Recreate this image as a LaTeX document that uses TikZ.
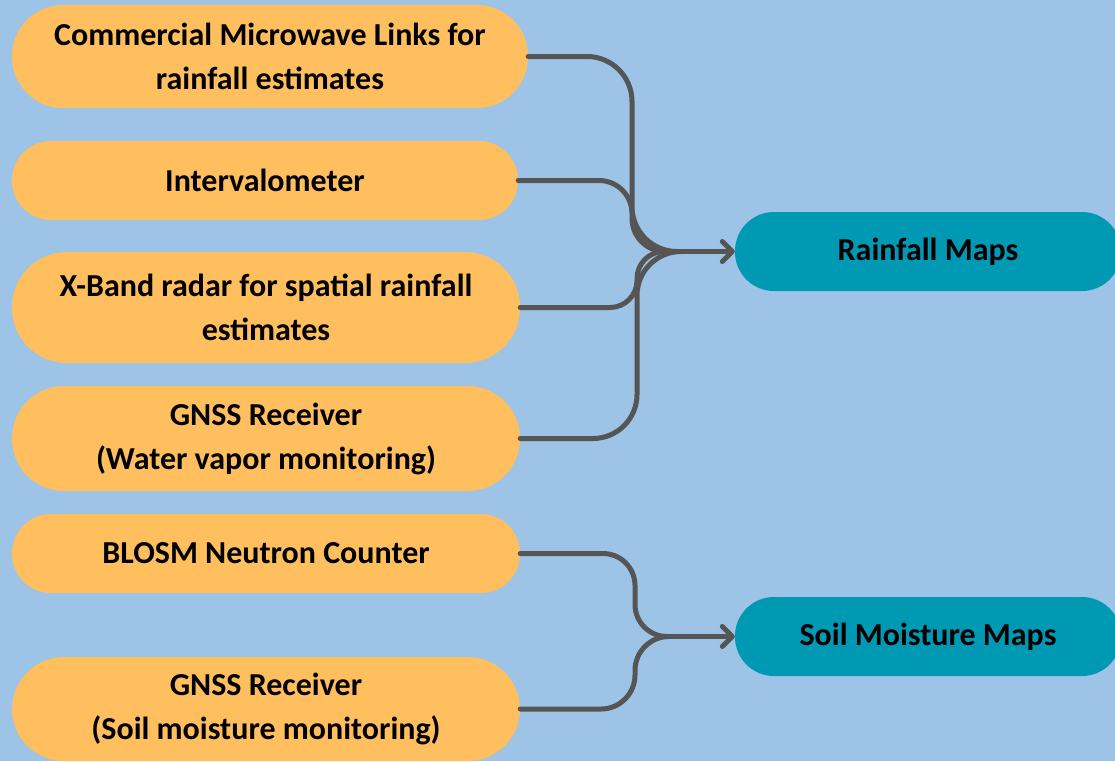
\documentclass[tikz,border=0pt]{standalone}
\usepackage{fontspec}
\setmainfont{Carlito}
\usetikzlibrary{arrows.meta}
\definecolor{bgblue}{HTML}{9DC3E6}
\definecolor{srcorange}{HTML}{FFBF5E}
\definecolor{tgtteal}{HTML}{0099B4}
\definecolor{linegray}{HTML}{555555}
\tikzset{
  box/.style={rectangle, inner sep=0pt, align=center, text=black,
    font=\fontsize{32}{44}\selectfont\bfseries},
  srcbox/.style={box, fill=srcorange},
  tgtbox/.style={box, fill=tgtteal, minimum width=386pt, minimum height=79pt, rounded corners=39pt},
  conn/.style={draw=linegray, line width=5pt, line cap=round, line join=round},
  arr/.style={conn, -{Straight Barb[length=10pt,width=20pt,line cap=round,line join=round]}}
}
\begin{document}
\begin{tikzpicture}[x=1pt,y=-1pt]
\fill[bgblue] (0,0) rectangle (1115,761);
\useasboundingbox (0,0) rectangle (1115,761);
\clip (0,0) rectangle (1115,761);

\node[srcbox, minimum width=516pt, minimum height=103pt, rounded corners=51pt] (c1) at (270,56.5) {Commercial Microwave Links for\\rainfall estimates};
\node[srcbox, minimum width=506pt, minimum height=79pt, rounded corners=39pt] (c2) at (265,180.5) {Intervalometer};
\node[srcbox, minimum width=508pt, minimum height=111pt, rounded corners=55pt] (c3) at (266,307.5) {X-Band radar for spatial rainfall\\estimates};
\node[srcbox, minimum width=508pt, minimum height=105pt, rounded corners=52pt] (c4) at (266,438.5) {GNSS Receiver\\(Water vapor monitoring)};
\node[srcbox, minimum width=508pt, minimum height=79pt, rounded corners=39pt] (c5) at (266,553.5) {BLOSM Neutron Counter};
\node[srcbox, minimum width=508pt, minimum height=104pt, rounded corners=52pt] (c6) at (266,709) {GNSS Receiver\\(Soil moisture monitoring)};

\node[tgtbox] (rain) at (928,251.5) {Rainfall Maps};
\node[tgtbox] (soil) at (928,636.5) {Soil Moisture Maps};

\coordinate (jr) at (672,251.5);
\coordinate (busA) at (632,251.5);
\coordinate (busB) at (637,251.5);
\coordinate (js) at (667,636.5);
\coordinate (busS) at (635,636.5);

\draw[conn, rounded corners=45pt] (c1.east) -- (c1.east -| busA) -- (busA) -- (jr);
\draw[conn, rounded corners=33pt] (c2.east) -- (c2.east -| busA) -- (busA) -- (jr);
\draw[conn, rounded corners=27pt] (c3.east) -- (c3.east -| busB) -- (busB) -- (jr);
\draw[conn, rounded corners=44pt] (c4.east) -- (c4.east -| busB) -- (busB) -- (jr);
\draw[arr] (jr) -- (rain.west);

\draw[conn, rounded corners=32pt] (c5.east) -- (c5.east -| busS) -- (busS) -- (js);
\draw[conn, rounded corners=34pt] (c6.east) -- (c6.east -| busS) -- (busS) -- (js);
\draw[arr] (js) -- (soil.west);
\end{tikzpicture}
\end{document}
